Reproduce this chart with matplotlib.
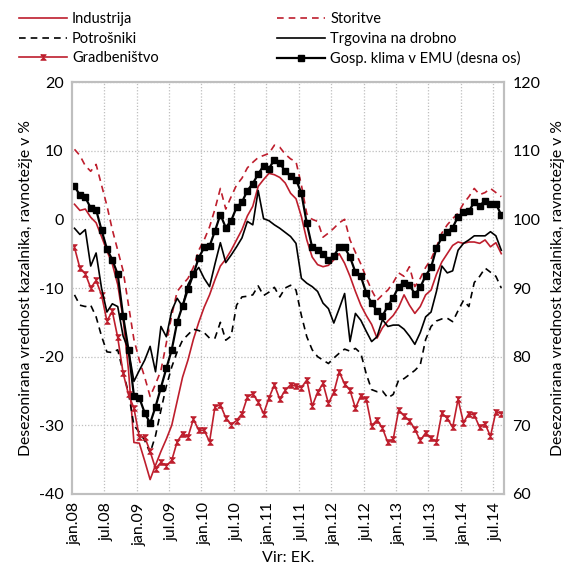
import numpy as np
import matplotlib
matplotlib.use("Agg")
import matplotlib.pyplot as plt
from matplotlib.lines import Line2D

plt.rcParams['font.family'] = ['Lato', 'DejaVu Sans']
plt.rcParams['axes.unicode_minus'] = False

# ---- data (jan.08 .. aug.14, monthly) ----
industrija = [2.2, 1.3, 1.5, 0.3, -0.5, -2.5, -4.6, -6.5, -9.5, -14.5,
              -22.0, -32.5, -32.6, -35.2, -37.9, -35.8, -33.8, -32.0, -30.0, -26.5,
              -23.0, -20.5, -17.5, -15.0, -12.8, -11.0, -8.8, -6.8, -5.8, -4.5,
              -3.0, -1.5, 0.5, 1.9, 4.8, 5.8, 6.7, 6.5, 6.1, 5.3,
              3.8, 3.0, 0.4, -3.0, -5.5, -6.6, -6.9, -6.7, -5.9, -5.0,
              -6.4, -8.3, -10.5, -12.5, -14.0, -15.3, -17.3, -15.8, -14.8, -14.0,
              -12.8, -11.0, -12.5, -13.7, -12.7, -11.0, -10.3, -8.0, -6.2, -5.0,
              -3.8, -3.3, -3.5, -3.3, -3.3, -3.5, -3.0, -4.0, -3.4, -5.0]
storitve = [10.2, 9.3, 7.8, 7.0, 8.0, 5.0, 2.0, -1.5, -4.5, -7.5,
            -12.5, -17.5, -20.5, -23.0, -25.8, -24.0, -22.0, -18.0, -14.0, -10.5,
            -9.5, -8.6, -7.0, -4.5, -3.0, -1.1, 1.5, 4.5, 1.5, 3.3,
            5.0, 6.0, 7.5, 8.3, 9.0, 9.3, 9.6, 10.8, 10.5, 9.5,
            8.8, 8.4, 5.0, 0.8, 0.0, -0.3, -2.6, -2.0, -1.3, -0.5,
            0.0, -3.0, -4.8, -6.5, -8.5, -10.3, -11.8, -11.0, -10.3, -9.2,
            -7.8, -8.3, -6.9, -9.8, -8.6, -7.0, -5.8, -4.0, -2.0, -0.8,
            0.1, 0.9, 2.3, 3.3, 4.5, 3.6, 3.9, 4.5, 3.9, 3.3]
potrosniki = [-11.0, -12.5, -12.7, -12.5, -14.2, -17.0, -19.3, -19.4, -19.0, -22.2,
              -25.3, -30.0, -31.0, -32.2, -34.0, -31.5, -27.8, -24.3, -21.5, -19.3,
              -17.6, -16.8, -16.0, -16.2, -16.5, -17.3, -17.3, -15.0, -17.6, -17.0,
              -12.5, -11.3, -11.2, -11.0, -9.7, -11.1, -10.6, -9.9, -11.3, -10.0,
              -9.6, -10.3, -14.0, -17.1, -19.0, -20.0, -20.5, -21.0, -20.2, -19.5,
              -18.9, -19.2, -18.8, -19.5, -22.5, -24.8, -25.1, -25.0, -26.0, -25.5,
              -23.4, -23.2, -22.6, -22.0, -21.2, -17.5, -15.6, -14.8, -14.5, -14.4,
              -14.9, -13.3, -11.8, -12.7, -9.2, -8.3, -7.1, -7.7, -8.3, -10.0]
trgovina = [-1.3, -2.2, -1.5, -6.8, -4.9, -10.0, -13.5, -12.3, -12.7, -17.0,
            -19.0, -23.6, -22.0, -20.5, -18.5, -22.2, -15.6, -17.1, -13.3, -11.5,
            -12.7, -9.5, -8.0, -7.0, -8.6, -9.8, -6.5, -3.4, -6.3, -5.2,
            -4.0, -2.7, -0.3, -0.8, 4.2, 0.1, -0.2, -0.8, -1.3, -1.9,
            -2.5, -3.5, -8.6, -9.3, -9.8, -10.5, -12.2, -13.0, -15.1, -13.0,
            -10.8, -17.8, -13.7, -14.7, -16.3, -17.8, -17.1, -14.6, -15.6, -15.4,
            -15.4, -16.0, -17.0, -18.2, -16.5, -14.2, -13.5, -10.5, -6.8, -7.8,
            -7.5, -4.5, -3.5, -3.0, -2.4, -2.4, -2.4, -1.8, -2.4, -4.5]
gradbenistvo = [-4.1, -7.1, -7.9, -10.0, -8.9, -11.0, -14.8, -13.4, -17.2, -22.4,
                -25.5, -27.5, -31.7, -31.7, -33.8, -36.3, -35.4, -35.9, -35.1, -32.4,
                -31.2, -31.7, -29.1, -30.7, -30.7, -32.4, -27.3, -27.0, -28.9, -29.9,
                -29.3, -28.3, -25.9, -25.4, -26.6, -28.3, -26.0, -24.1, -26.2, -24.9,
                -24.1, -24.3, -24.5, -23.4, -27.2, -25.2, -23.9, -26.8, -25.2, -22.2,
                -24.0, -24.9, -27.5, -25.7, -26.2, -30.1, -29.2, -30.4, -32.5, -32.0,
                -27.8, -28.6, -29.3, -30.6, -32.2, -31.1, -31.9, -32.4, -28.2, -29.0,
                -30.3, -26.2, -29.6, -28.3, -28.5, -30.3, -29.8, -31.6, -28.0, -28.3]
emu = [104.85, 103.5, 103.2, 101.65, 101.4, 98.45, 95.7, 94.1, 92.0, 85.9,
       81.0, 74.3, 74.0, 71.8, 70.3, 72.7, 75.5, 78.3, 81.0, 85.0,
       87.4, 89.8, 92.0, 94.4, 95.9, 96.1, 98.3, 100.7, 98.8, 99.8,
       101.75, 102.5, 104.2, 105.2, 106.6, 107.8, 107.4, 108.7, 108.2, 107.0,
       106.3, 105.8, 103.8, 99.4, 95.9, 95.5, 95.0, 94.1, 94.7, 95.9,
       95.9, 94.5, 92.3, 91.7, 89.3, 87.8, 86.7, 85.9, 87.4, 88.6,
       90.2, 90.8, 90.5, 89.1, 90.1, 91.8, 93.0, 95.8, 97.4, 98.2,
       98.8, 100.4, 101.0, 101.2, 102.5, 102.0, 102.7, 102.3, 102.3, 100.6]
months = ['jan.08', 'jul.08', 'jan.09', 'jul.09', 'jan.10', 'jul.10', 'jan.11',
          'jul.11', 'jan.12', 'jul.12', 'jan.13', 'jul.13', 'jan.14', 'jul.14']

RED = '#BE1E2D'
BLACK = '#000000'
GRID = '#BFBFBF'
FS = 10.5
TFS = 11.5

x = np.arange(len(industrija))

fig = plt.figure(figsize=(5.68, 5.68), dpi=100)
ax = fig.add_axes([0.1264, 0.1303, 0.7609, 0.7253])
ax2 = ax.twinx()

ax.set_xlim(-0.5, len(x) - 0.5)
ax.set_ylim(-40, 20)
ax2.set_ylim(60, 120)

# grid
for yv in range(-30, 21, 10):
    ax.axhline(yv, color=GRID, lw=0.9, ls=(0, (1, 1.5)), zorder=0)
for k in range(1, len(months)):
    ax.axvline(6 * k - 0.5, color=GRID, lw=0.9, ls=(0, (1, 1.5)), zorder=0)

hour = [(-1, 1), (1, 1), (-1, -1), (1, -1), (-1, 1)]

l_ind, = ax.plot(x, industrija, color=RED, lw=1.2)
l_pot, = ax.plot(x, potrosniki, color=BLACK, lw=1.2, ls=(0, (4, 3)))
l_grad, = ax.plot(x, gradbenistvo, color=RED, lw=1.2, marker=hour, ms=4,
                  mfc=RED, mec=RED, mew=0.6)
l_stor, = ax.plot(x, storitve, color=RED, lw=1.2, ls=(0, (4, 3)))
l_trg, = ax.plot(x, trgovina, color=BLACK, lw=1.2)
l_emu, = ax2.plot(x, emu, color=BLACK, lw=1.6, marker='s', ms=4.5,
                  mfc=BLACK, mec=BLACK)

ax.set_xticks(np.arange(0, len(x), 6))
ax.set_xticklabels(months, rotation=90, fontsize=TFS)
ax.set_yticks(range(-40, 21, 10))
ax.set_yticklabels([str(v) for v in range(-40, 21, 10)], fontsize=TFS)
ax2.set_yticks(range(60, 121, 10))
ax2.set_yticklabels([str(v) for v in range(60, 121, 10)], fontsize=TFS)
for a in (ax, ax2):
    a.tick_params(length=0, pad=6)
    for s in a.spines.values():
        s.set_color(GRID)
        s.set_linewidth(1.5)

ylab = 'Desezonirana vrednost kazalnika, ravnotežje v %'
ax.set_ylabel(ylab, fontsize=11.3, labelpad=4)
ax2.set_ylabel(ylab, fontsize=11.3, labelpad=8)
ax.set_xlabel('Vir: EK.', fontsize=11.5, labelpad=4)

leg_kw = dict(frameon=False, fontsize=FS, handlelength=3.3, handletextpad=0.35,
              labelspacing=0.36, borderpad=0, borderaxespad=0, loc='upper left')
fig.legend([l_ind, l_pot, l_grad], ['Industrija', 'Potrošniki', 'Gradbeništvo'],
           bbox_to_anchor=(0.033, 0.978), **leg_kw)
fig.legend([l_stor, l_trg, l_emu], ['Storitve', 'Trgovina na drobno', 'Gosp. klima v EMU (desna os)'],
           bbox_to_anchor=(0.488, 0.978), **leg_kw)

fig.savefig('out.png', dpi=100)
